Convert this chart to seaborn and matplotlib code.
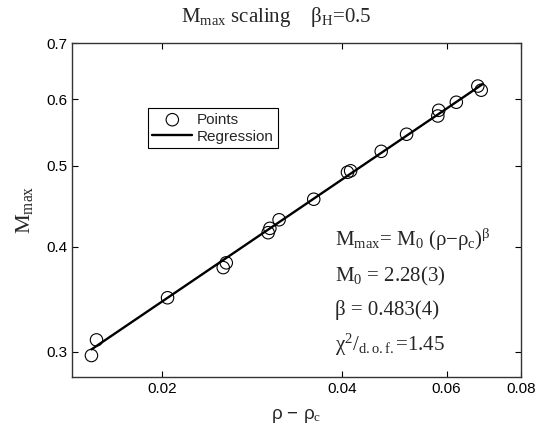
import numpy as np
import pandas as pd
import seaborn as sns
import matplotlib
matplotlib.use("Agg")
import matplotlib.pyplot as plt
from matplotlib.ticker import FixedLocator, FixedFormatter, NullFormatter

# data (log-log)
rho_diff = [0.0152, 0.0155, 0.0204, 0.0253, 0.0256, 0.0301, 0.0303, 0.0314,
            0.0359, 0.0409, 0.0414, 0.0466, 0.0514, 0.0580, 0.0582, 0.0623,
            0.0677, 0.0686]
m_max = [0.297, 0.310, 0.348, 0.378, 0.383, 0.416, 0.421, 0.431,
         0.456, 0.491, 0.493, 0.520, 0.545, 0.573, 0.582, 0.595,
         0.622, 0.615]
fit_x = [0.0152, 0.0689]
fit_y = [0.302, 0.625]

x_ticks = [0.02, 0.04, 0.06, 0.08]
y_ticks = [0.3, 0.4, 0.5, 0.6, 0.7]

pts = pd.DataFrame({"x": rho_diff, "y": m_max})
fit = pd.DataFrame({"x": fit_x, "y": fit_y})

sns.set_style("ticks")
plt.rcParams["font.family"] = ["Liberation Sans", "DejaVu Sans"]
plt.rcParams["mathtext.fontset"] = "custom"
plt.rcParams["mathtext.rm"] = "Liberation Serif"
plt.rcParams["mathtext.it"] = "Liberation Serif:italic"

fig = plt.figure(figsize=(5.42, 4.25), dpi=100)
ax = fig.add_axes([72 / 542, 1 - 377 / 425, 449 / 542, 334 / 425])
ax.set_xscale("log")
ax.set_yscale("log")

sns.scatterplot(data=pts, x="x", y="y", ax=ax, marker="o", s=80,
                facecolor="none", edgecolor="black", linewidth=0.8,
                label="Points", zorder=3)
sns.lineplot(data=fit, x="x", y="y", ax=ax, color="black", linewidth=1.7,
             label="Regression", zorder=2)

ax.set_xlim(0.0141, 0.08)
ax.set_ylim(0.28, 0.7)

ax.xaxis.set_major_locator(FixedLocator(x_ticks))
ax.xaxis.set_major_formatter(FixedFormatter([str(v) for v in x_ticks]))
ax.xaxis.set_minor_locator(FixedLocator([]))
ax.yaxis.set_major_locator(FixedLocator(y_ticks))
ax.yaxis.set_major_formatter(FixedFormatter([str(v) for v in y_ticks]))
ax.yaxis.set_minor_formatter(NullFormatter())
ax.tick_params(which="both", direction="in", top=True, right=True,
               colors="black", labelsize=11)
ax.tick_params(which="major", length=4)
ax.tick_params(which="minor", length=2)
for s in ax.spines.values():
    s.set_color("#333333")
    s.set_linewidth(1.0)

ax.set_xlabel("ρ − ρ$_{\\mathrm{c}}$", fontsize=13.5, labelpad=8)
ax.set_ylabel("M$_{\\mathrm{max}}$", fontsize=16, family="Liberation Serif",
              labelpad=8)
fig.text(276 / 542, 1 - 22 / 425,
         "M$_{\\mathrm{max}}$ scaling    β$_{\\mathrm{H}}$=0.5",
         fontsize=15, family="Liberation Serif", ha="center", va="baseline")

serif = dict(fontsize=15, family="Liberation Serif", transform=ax.transAxes,
             ha="left", va="center")
ax.text(0.585, 0.41,
        "M$_{\\mathrm{max}}$= M$_{0}$ (ρ−ρ$_{\\mathrm{c}}$)$^{\\mathrm{β}}$", **serif)
ax.text(0.585, 0.30, "M$_{0}$ = 2.28(3)", **serif)
ax.text(0.585, 0.20, "β = 0.483(4)", **serif)
ax.text(0.585, 0.095, "χ$^{2}$/$_{\\mathrm{d.o.f.}}$=1.45", **serif)

leg = ax.legend(loc="upper left", bbox_to_anchor=(0.169, 0.805),
                borderaxespad=0, fancybox=False, edgecolor="black",
                fontsize=11, handlelength=2.6, handletextpad=0.3,
                borderpad=0.3, labelspacing=0.2, framealpha=1)
leg.get_frame().set_linewidth(0.8)

fig.savefig("out.png", dpi=100)
